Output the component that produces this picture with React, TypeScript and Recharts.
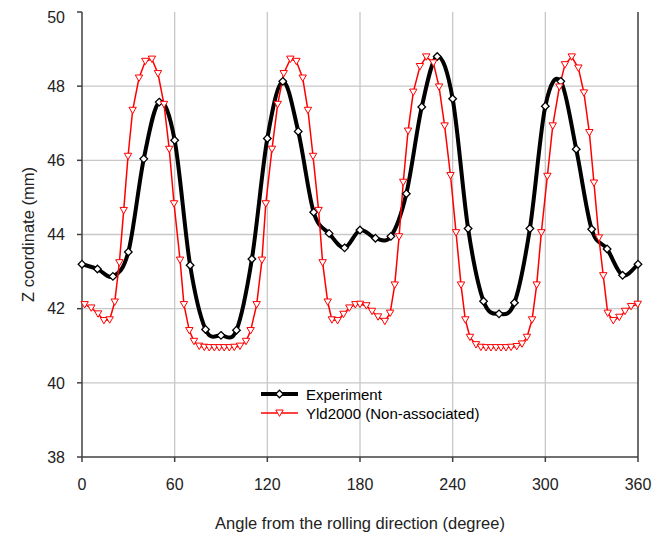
import { LineChart, Line, XAxis, YAxis, CartesianGrid, ReferenceLine, Customized } from 'recharts'

// experiment, measured every 10 degrees
const expAngles = [0, 10, 20, 30, 40, 50, 60, 70, 80, 90, 100, 110, 120, 130, 140, 150, 160, 170, 180, 190, 200, 210, 220, 230, 240, 250, 260, 270, 280, 290, 300, 310, 320, 330, 340, 350, 360]
const expZ = [43.2, 43.07, 42.87, 43.53, 46.04, 47.57, 46.54, 43.17, 41.44, 41.28, 41.42, 43.34, 46.59, 48.13, 46.78, 44.6, 44.03, 43.64, 44.12, 43.9, 43.95, 45.1, 47.44, 48.8, 47.66, 44.16, 42.2, 41.86, 42.16, 44.16, 47.46, 48.13, 46.3, 44.14, 43.61, 42.9, 43.2]

// Yld2000 simulation nodes
const simAngles = [1.7, 6.0, 10.4, 14.2, 17.9, 21.2, 24.2, 27.0, 29.8, 32.8, 36.9, 41.0, 45.3, 49.2, 53.1, 56.5, 59.6, 63.5, 66.0, 69.5, 72.5, 75.9, 79.2, 82.4, 85.7, 88.9, 92.1, 95.4, 98.6, 102.3, 106.2, 109.2, 113.1, 116.5, 119.0, 123.0, 126.7, 130.6, 134.9, 138.8, 142.9, 146.3, 149.6, 153.2, 155.8, 159.1, 161.8, 165.5, 169.3, 173.1, 177.0, 180.0, 184.1, 187.8, 191.7, 196.1, 199.5, 202.5, 205.3, 208.0, 211.1, 214.5, 218.8, 222.9, 227.5, 231.2, 234.8, 238.6, 242.2, 245.4, 248.2, 251.2, 255.1, 258.3, 261.6, 264.8, 268.1, 271.3, 274.5, 277.8, 281.5, 284.9, 288.1, 291.4, 294.4, 297.4, 301.3, 304.8, 309.1, 312.7, 317.1, 321.4, 325.0, 328.5, 331.5, 334.7, 337.5, 340.4, 344.0, 347.9, 351.6, 355.5, 359.8]
const simZ = [42.11, 42.02, 41.86, 41.68, 41.7, 42.18, 43.24, 44.65, 46.11, 47.35, 48.22, 48.67, 48.73, 48.34, 47.51, 46.3, 44.83, 43.31, 42.11, 41.41, 41.12, 40.99, 40.96, 40.95, 40.95, 40.95, 40.95, 40.95, 40.96, 40.99, 41.12, 41.41, 42.11, 43.31, 44.83, 46.3, 47.51, 48.34, 48.73, 48.67, 48.22, 47.35, 46.11, 44.65, 43.24, 42.18, 41.7, 41.68, 41.85, 42.02, 42.11, 42.12, 42.08, 41.93, 41.78, 41.66, 41.88, 42.64, 43.94, 45.41, 46.79, 47.84, 48.53, 48.79, 48.63, 47.98, 46.93, 45.59, 44.05, 42.64, 41.7, 41.23, 41.03, 40.96, 40.95, 40.95, 40.95, 40.95, 40.95, 40.96, 40.98, 41.05, 41.23, 41.7, 42.64, 44.05, 45.57, 46.93, 47.98, 48.58, 48.79, 48.49, 47.82, 46.75, 45.39, 43.91, 42.89, 41.88, 41.68, 41.77, 41.93, 42.06, 42.12]

const xTicks = [0, 60, 120, 180, 240, 300, 360]
const yTicks = [38, 40, 42, 44, 46, 48, 50]

const expData = expAngles.map((a, i) => ({ angle: a, z: expZ[i] }))
const simData = simAngles.map((a, i) => ({ angle: a, z: simZ[i] }))

const FONT = 'Arial, "Liberation Sans", sans-serif'

// Excel-style smoothing (catmull-rom through every point)
const smoothCurve = (context: any) => {
  let pts: number[][] = []
  return {
    areaStart() {},
    areaEnd() {},
    lineStart() {
      pts = []
    },
    lineEnd() {
      const n = pts.length
      if (!n) return
      context.moveTo(pts[0][0], pts[0][1])
      for (let i = 0; i < n - 1; i++) {
        const p0 = pts[Math.max(i - 1, 0)]
        const p1 = pts[i]
        const p2 = pts[i + 1]
        const p3 = pts[Math.min(i + 2, n - 1)]
        context.bezierCurveTo(
          p1[0] + (p2[0] - p0[0]) / 6,
          p1[1] + (p2[1] - p0[1]) / 6,
          p2[0] - (p3[0] - p1[0]) / 6,
          p2[1] - (p3[1] - p1[1]) / 6,
          p2[0],
          p2[1]
        )
      }
    },
    point(x: number, y: number) {
      pts.push([+x, +y])
    },
  }
}

const diamond = (cx: number, cy: number, r = 3.8) =>
  `M${cx},${cy - r}L${cx + r},${cy}L${cx},${cy + r}L${cx - r},${cy}Z`
const triangle = (cx: number, cy: number) =>
  `M${cx - 3.7},${cy - 3}L${cx + 3.7},${cy - 3}L${cx},${cy + 3.4}Z`

const DiamondDot = (props: any) => {
  const { cx, cy, index } = props
  if (cx == null || cy == null) return null
  return <path key={`d${index}`} d={diamond(cx, cy)} fill="#fff" stroke="#000" strokeWidth={1.3} />
}

const TriangleDot = (props: any) => {
  const { cx, cy, index } = props
  if (cx == null || cy == null) return null
  return <path key={`t${index}`} d={triangle(cx, cy)} fill="#fff" stroke="#ff0000" strokeWidth={1} />
}

const LegendBox = () => (
  <g fontFamily={FONT} fontSize={15} fill="#000">
    <line x1={253} x2={290} y1={386} y2={386} stroke="#000" strokeWidth={4} />
    <path d={diamond(271.5, 386)} fill="#fff" stroke="#000" strokeWidth={1.3} />
    <text x={298} y={386} dominantBaseline="central">Experiment</text>
    <line x1={253} x2={290} y1={405} y2={405} stroke="#ff0000" strokeWidth={1.5} />
    <path d={triangle(271.5, 405)} fill="#fff" stroke="#ff0000" strokeWidth={1} />
    <text x={298} y={405} dominantBaseline="central">Yld2000 (Non-associated)</text>
  </g>
)

const YTitle = (props: any) => {
  const { viewBox } = props
  const cy = viewBox.y + viewBox.height / 2
  return (
    <text
      x={20}
      y={cy}
      transform={`rotate(-90, 20, ${cy})`}
      textAnchor="middle"
      dominantBaseline="central"
      fontFamily={FONT}
      fontSize={16.5}
      fill="#222"
    >
      Z coordinate (mm)
    </text>
  )
}

export default function App() {
  return (
    <LineChart width={656} height={525} margin={{ top: 4, right: 26, bottom: 2, left: 0 }}>
      <CartesianGrid
        stroke="#c8c8c8"
        strokeWidth={1.3}
        horizontalValues={[40, 42, 44, 46, 48]}
        verticalValues={[60, 120, 180, 240, 300]}
      />
      <XAxis
        dataKey="angle"
        type="number"
        domain={[0, 360]}
        ticks={xTicks}
        allowDuplicatedCategory={false}
        stroke="#404040"
        strokeWidth={1.5}
        tickSize={5}
        tickMargin={17}
        height={74}
        tick={{ fill: '#222', fontSize: 16, fontFamily: FONT }}
        label={{
          value: 'Angle from the rolling direction (degree)',
          position: 'insideBottom',
          offset: 2,
          fill: '#222',
          fontSize: 16.5,
          fontFamily: FONT,
        }}
      />
      <YAxis
        type="number"
        domain={[38, 50]}
        ticks={yTicks}
        stroke="#404040"
        strokeWidth={1.5}
        tickSize={5}
        tickMargin={12}
        width={74}
        tick={{ fill: '#222', fontSize: 16, fontFamily: FONT }}
        label={<YTitle />}
      />
      <ReferenceLine x={360} stroke="#202020" strokeWidth={1.3} />
      <Line
        data={expData}
        dataKey="z"
        type={smoothCurve as any}
        stroke="#000"
        strokeWidth={4}
        dot={DiamondDot}
        activeDot={false}
        isAnimationActive={false}
      />
      <Line
        data={simData}
        dataKey="z"
        type="linear"
        stroke="#ff0000"
        strokeWidth={1.5}
        dot={TriangleDot}
        activeDot={false}
        isAnimationActive={false}
      />
      <Customized component={LegendBox} />
    </LineChart>
  )
}
